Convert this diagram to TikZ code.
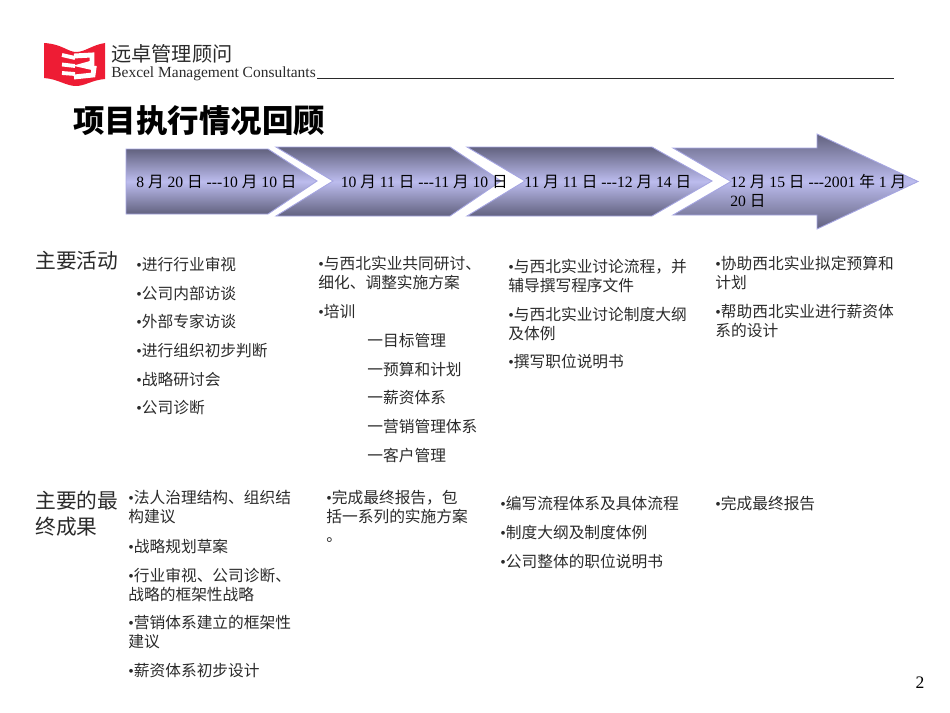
\documentclass[tikz,border=0pt]{standalone}
\usepackage{fontspec}
\setmainfont{Liberation Serif}
\newfontfamily\cjk{Noto Sans CJK SC}
\definecolor{banddark}{HTML}{62627F}
\definecolor{bandlight}{HTML}{BCBCEE}
\definecolor{bandline}{HTML}{A6A6E2}
\definecolor{logored}{HTML}{EE1C34}
\definecolor{inkgrey}{HTML}{2A2A2A}
\newcommand{\zh}[1]{{\cjk #1}}
\newcommand{\bul}{{\rmfamily\symbol{"2022}}}
\newcommand{\dashes}{-{}-{}-}
\tikzset{
  bandshape/.style={draw=bandline,line width=.5pt,top color=banddark,bottom color=banddark,middle color=bandlight},
  datetext/.style={anchor=west,inner sep=0pt,font=\fontsize{8.9}{10.8}\selectfont,align=left},
  itemtext/.style={anchor=north west,inner sep=0pt,text=inkgrey,align=left,font=\fontsize{8.95}{10.8}\selectfont\cjk},
  headtext/.style={anchor=north west,inner sep=0pt,text=inkgrey,align=left,font=\fontsize{11.8}{14.8}\selectfont\cjk}
}
\begin{document}
\begin{tikzpicture}[x=.02cm,y=-.02cm]
\useasboundingbox (0,0) rectangle (950,713);
% logo
\fill[logored] (44,43) .. controls (62,44) and (68,52) .. (76,52) .. controls (85,52) and (92,45) .. (105,43) -- (105,79) .. controls (92,80) and (85,86) .. (76,86) .. controls (66,86) and (58,79) .. (44,78) -- cycle;
\draw[white,line width=2.2pt] (62,55) -- (75,58) (62,64.5) -- (75,66) (62,73) -- (75,74);
\draw[white,line width=2.8pt] (74,56) -- (92,55) -- (92,63) -- (83,65.5) -- (94,68) -- (93,75) -- (74,77);
\node[anchor=west,inner sep=0pt,text=inkgrey,font=\fontsize{11.5}{14}\selectfont\cjk] (logocn) at (111,54) {远卓管理顾问};
\node[anchor=west,inner sep=0pt,text=inkgrey,font=\fontsize{8.8}{10}\selectfont] (logoen) at (111,74) {Bexcel Management Consultants};
\draw[inkgrey,line width=.75pt] (317,78.5) -- (894,78.5);
% title
\node[anchor=west,inner sep=0pt,font=\fontsize{17.9}{20}\selectfont\cjk\bfseries] (title) at (73,121) {项目执行情况回顾};
% time bands
\draw[bandshape] (126,149) -- (268,149) -- (317,181) -- (268,214) -- (126,214) -- cycle;
\draw[bandshape] (276,147) -- (450,147) -- (501,181) -- (450,216) -- (276,216) -- (333,181) -- cycle;
\draw[bandshape] (467,147) -- (652,147) -- (712,181) -- (652,216) -- (467,216) -- (525,181) -- cycle;
\draw[bandshape] (673,148) -- (817,148) -- (817,134) -- (918,181.5) -- (817,229) -- (817,215) -- (673,215) -- (731,181.5) -- cycle;
\node[datetext] (dateA) at (136,181.5) {8 \zh{月} 20 \zh{日} \dashes 10 \zh{月} 10 \zh{日}};
\node[datetext] (dateB) at (340.5,181.5) {10 \zh{月} 11 \zh{日} \dashes 11 \zh{月} 10 \zh{日}};
\node[datetext] (dateC) at (524,181.5) {11 \zh{月} 11 \zh{日} \dashes 12 \zh{月} 14 \zh{日}};
\node[datetext] (dateD) at (730,191) {12 \zh{月} 15 \zh{日} \dashes 2001 \zh{年} 1 \zh{月}\\20 \zh{日}};
% row one
\node[headtext] (headA) at (35,251) {主要活动};
\foreach \y/\t [count=\i] in {257/进行行业审视,286/公司内部访谈,314/外部专家访谈,343/进行组织初步判断,372/战略研讨会,400/公司诊断}
  \node[itemtext] (actA\i) at (136,\y) {\bul\t};
\node[itemtext] (actBa) at (318,256) {\bul 与西北实业共同研讨、\\细化、调整实施方案};
\node[itemtext] (actBb) at (318,304) {\bul 培训};
\foreach \y/\t [count=\i] in {333/目标管理,362/预算和计划,390/薪资体系,419/营销管理体系,448/客户管理}
  \node[itemtext] (subB\i) at (367,\y) {一\t};
\node[itemtext] (actCa) at (508,259) {\bul 与西北实业讨论流程，并\\辅导撰写程序文件};
\node[itemtext] (actCb) at (508,307) {\bul 与西北实业讨论制度大纲\\及体例};
\node[itemtext] (actCc) at (508,354) {\bul 撰写职位说明书};
\node[itemtext] (actDa) at (715,256) {\bul 协助西北实业拟定预算和\\计划};
\node[itemtext] (actDb) at (715,304) {\bul 帮助西北实业进行薪资体\\系的设计};
% row two
\node[headtext] (headB) at (35,491) {主要的最\\终成果};
\node[itemtext] (resAa) at (128,490) {\bul 法人治理结构、组织结\\构建议};
\node[itemtext] (resAb) at (128,539) {\bul 战略规划草案};
\node[itemtext] (resAc) at (128,568) {\bul 行业审视、公司诊断、\\战略的框架性战略};
\node[itemtext] (resAd) at (128,615) {\bul 营销体系建立的框架性\\建议};
\node[itemtext] (resAe) at (128,663) {\bul 薪资体系初步设计};
\node[itemtext] (resB) at (326,490) {\bul 完成最终报告，包\\括一系列的实施方案\\。};
\foreach \y/\t [count=\i] in {496/编写流程体系及具体流程,525/制度大纲及制度体例,554/公司整体的职位说明书}
  \node[itemtext] (resC\i) at (500,\y) {\bul\t};
\node[itemtext] (resD) at (715,496) {\bul 完成最终报告};
\node[anchor=center,inner sep=0pt,font=\fontsize{10}{12}\selectfont] (pagenum) at (920,683) {2};
\end{tikzpicture}
\end{document}
